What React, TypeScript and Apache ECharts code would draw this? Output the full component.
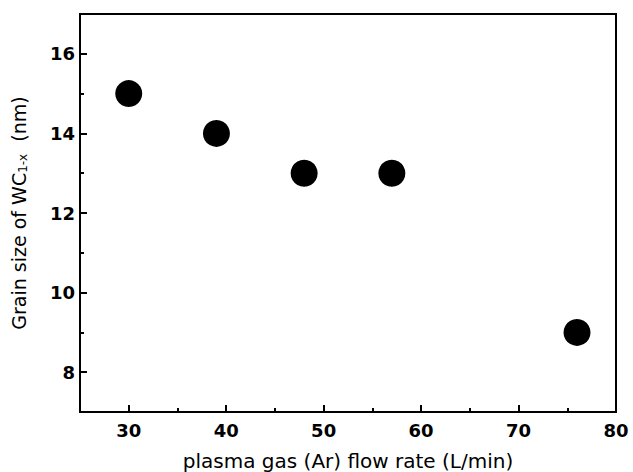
import React, { useEffect, useRef } from "react";
import * as echarts from "echarts";

const flowRates = [30, 39, 48, 57, 76];
const grainSizes = [15, 14, 13, 13, 9];
const xMajorTicks = [30, 40, 50, 60, 70, 80];
const xMinorTicks = [35, 45, 55, 65, 75];
const yMajorTicks = [8, 10, 12, 14, 16];
const yMinorTicks = [9, 11, 13, 15];
const xTitle = "plasma gas (Ar) flow rate (L/min)";

export default function App() {
  const ref = useRef<HTMLDivElement>(null);
  useEffect(() => {
    const chart = echarts.init(ref.current!, null, { renderer: "svg" });
    const font = "DejaVu Sans, Liberation Sans, sans-serif";
    const black = "#000";
    const xBase = {
      type: "value",
      min: 25,
      max: 80,
      interval: 5,
      splitLine: { show: false },
      axisLine: { lineStyle: { color: black, width: 2 } },
    };
    const yBase = {
      type: "value",
      min: 7,
      max: 17,
      interval: 1,
      splitLine: { show: false },
      axisLine: { lineStyle: { color: black, width: 2 } },
    };
    chart.setOption({
      animation: false,
      backgroundColor: "#fff",
      grid: {
        left: 80,
        right: 17,
        top: 14,
        bottom: 60,
        containLabel: false,
        outerBoundsMode: "none",
        show: true,
        borderColor: black,
        borderWidth: 2,
        backgroundColor: "transparent",
      },
      xAxis: [
        {
          ...xBase,
          axisTick: { inside: true, length: 7, lineStyle: { color: black, width: 2 }, customValues: xMajorTicks },
          axisLabel: {
            color: black,
            fontSize: 18,
            fontWeight: "bold",
            fontFamily: font,
            margin: 9,
            customValues: xMajorTicks,
          },
          name: xTitle,
          nameLocation: "middle",
          nameGap: 39,
          nameTextStyle: { color: black, fontSize: 20, fontFamily: font },
        },
        {
          ...xBase,
          position: "bottom",
          axisTick: { inside: true, length: 4, lineStyle: { color: black, width: 2 }, customValues: xMinorTicks },
          axisLabel: { show: false },
        },
      ],
      yAxis: [
        {
          ...yBase,
          axisTick: { inside: true, length: 7, lineStyle: { color: black, width: 2 }, customValues: yMajorTicks },
          axisLabel: {
            color: black,
            fontSize: 18,
            fontWeight: "bold",
            fontFamily: font,
            margin: 5,
            customValues: yMajorTicks,
          },
          name: "{a|Grain size of WC}{s|1-x}{a|  (nm)}",
          nameLocation: "middle",
          nameGap: 51,
          nameTextStyle: {
            color: black,
            fontFamily: font,
            rich: {
              a: { fontSize: 19, fontFamily: font, color: black },
              s: { fontSize: 12, fontFamily: font, color: black, verticalAlign: "bottom", padding: [9, 0, 0, 0] },
            },
          },
        },
        {
          ...yBase,
          position: "left",
          axisTick: { inside: true, length: 4, lineStyle: { color: black, width: 2 }, customValues: yMinorTicks },
          axisLabel: { show: false },
        },
      ],
      series: [
        {
          type: "scatter",
          xAxisIndex: 0,
          yAxisIndex: 0,
          data: flowRates.map((x, i) => [x, grainSizes[i]]),
          symbol: "circle",
          symbolSize: 27,
          itemStyle: { color: black, opacity: 1 },
        },
      ],
    });
    return () => chart.dispose();
  }, []);
  return (
    <div
      ref={ref}
      style={{ position: "fixed", left: 0, top: 0, width: 633, height: 472 }}
    />
  );
}
